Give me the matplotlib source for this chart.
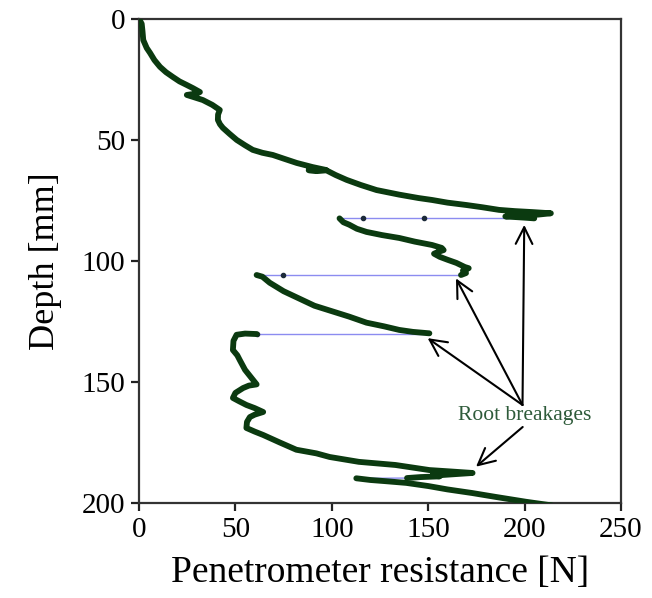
import numpy as np
import matplotlib
matplotlib.use("Agg")
import matplotlib.pyplot as plt

plt.rcParams['font.family'] = ['Liberation Serif', 'DejaVu Serif']

#------------------datos_del_penetrometro---------------------#
# tramos continuos (fuerza [N], profundidad [mm])
seg1_force = [0, 1.4, 1.8, 2.2, 4, 5.7, 8, 10.9, 14, 17.6, 21, 24.8, 28, 31.6, 30, 24.8, 28,
              33.1, 38, 41.9, 41, 40.9, 42, 43.5, 47, 50.7, 55, 59, 64, 69.4, 75, 81.8, 90,
              97, 92, 88, 97.3, 102, 107.7, 115, 123.2, 135, 145, 152, 160, 170, 178, 186.8,
              195, 204, 213.6, 205, 195, 190, 200, 205]
seg1_depth = [0, 2, 5, 8.7, 12, 14, 17, 19.8, 22, 24, 25.8, 27.3, 28.6, 30.2, 30.8, 31.4, 32.2,
              33.5, 35.5, 37.6, 39.5, 41.7, 43.5, 45, 47.5, 50, 52.2, 54.1, 55.3, 56.2, 57.7, 59.5, 61.2,
              62.4, 62.8, 62.5, 62.6, 64.5, 66.5, 68.6, 70.7, 72.6, 74, 74.8, 75.9, 76.9, 77.8, 78.9,
              79.4, 79.8, 80.3, 81, 81.3, 81.6, 82.1, 82.4]

seg2_force = [104, 106, 109, 113, 118, 126, 135, 143, 152, 157, 158, 155, 153, 156, 160, 164.6,
              169, 171, 168, 169.6, 167]
seg2_depth = [82.4, 84, 85, 86.7, 88, 89.3, 90.5, 92, 93.4, 94.6, 95.5, 96.3, 97, 98.3, 99.5, 100.8,
              102.5, 103, 104, 105, 105.8]

seg3_force = [61, 64, 67.8, 75, 83, 91, 99, 109, 118, 127, 135, 142, 150.6]
seg3_depth = [105.8, 106.5, 109, 112.5, 115.5, 118.5, 120.5, 123, 125.5, 127, 128.5, 129.3, 129.9]

seg4_force = [61, 55, 50.6, 49, 48.7, 51, 52.3, 55, 58, 61, 57, 54, 50, 48.7, 52, 55.7, 60, 64.4,
              60, 57.5, 56, 55.7, 60, 64.4, 73, 81.6, 92, 98.9, 114, 133, 150.6, 162, 173, 158,
              152, 156, 146, 139]
seg4_depth = [130.2, 130, 130.5, 133, 136.8, 139, 141, 145, 148, 151, 151.5, 152.5, 154.5, 156.6,
              158, 159.5, 160.8, 162.4, 163.5, 164.5, 166.5, 169, 170.5, 171.9, 175, 178, 179.5,
              181, 183, 184.3, 186.4, 187, 187.6, 188.4, 188.7, 189.0, 189.3, 189.7]

seg5_force = [112.7, 120, 128, 138.6, 150, 160, 172.9, 185, 200.7, 214]
seg5_depth = [189.8, 190.5, 191, 191.7, 193, 194.4, 195.9, 197.5, 199.5, 201]

# caidas rapidas (rotura de raiz) y puntos sueltos medidos durante la caida
drop_force = [[205, 148, 116, 104], [167, 74.7, 61], [150.6, 61], [139, 121, 112.7]]
drop_depth = [[82.4, 82.4, 82.4, 82.4], [105.8, 105.8, 105.8], [130, 130], [189.7, 189.8, 189.8]]
dot_force = [148, 116, 74.7, 61]
dot_depth = [82.4, 82.4, 105.8, 130.2]

# flechas de la anotacion
arrow_force = [199.8, 164.4, 149.7]
arrow_depth = [85.1, 107.2, 131.9]

#---------creando_la_grafica-----------#
fig = plt.figure(figsize=(6.52, 5.98), dpi=100)
ax = fig.add_axes([0.2132, 0.1589, 0.7393, 0.8094])

for f, d in zip(drop_force, drop_depth):
    ax.plot(f, d, color="#8c8cf0", lw=1.0, zorder=1)
ax.plot(dot_force, dot_depth, "o", color="#1c2a3a", ms=3, zorder=2)

for f, d in [(seg1_force, seg1_depth), (seg2_force, seg2_depth), (seg3_force, seg3_depth),
             (seg4_force, seg4_depth), (seg5_force, seg5_depth)]:
    ax.plot(f, d, color="#0b3a10", lw=4.2, solid_capstyle="round", solid_joinstyle="round", zorder=3)

ax.set_xlim(0, 250)
ax.set_ylim(200, 0)
ax.set_xticks([0, 50, 100, 150, 200, 250])
ax.set_yticks([0, 50, 100, 150, 200])

for s in ax.spines.values():
    s.set_linewidth(1.6)
    s.set_color("#333333")
ax.tick_params(direction="out", length=6, width=1.6, labelsize=21, color="#222222", pad=4)

ax.set_xlabel("Penetrometer resistance [N]", fontsize=27, labelpad=9)
ax.set_ylabel("Depth [mm]", fontsize=26, labelpad=14)

# Anotacion
for xf, yd in zip(arrow_force, arrow_depth):
    ax.annotate("", xy=(xf, yd), xytext=(198.9, 159.5),
                arrowprops=dict(arrowstyle="->", lw=1.5, color="black", mutation_scale=30,
                                shrinkA=0, shrinkB=0), zorder=4)
ax.annotate("", xy=(174.8, 185), xytext=(199, 168.6),
            arrowprops=dict(arrowstyle="->", lw=1.5, color="black", mutation_scale=30,
                            shrinkA=0, shrinkB=0), zorder=4)
ax.text(199.8, 163.8, "Root breakages", fontsize=15.5, color="#2e5b3a",
        ha="center", va="center", zorder=5)

fig.savefig("out.png", dpi=100)
